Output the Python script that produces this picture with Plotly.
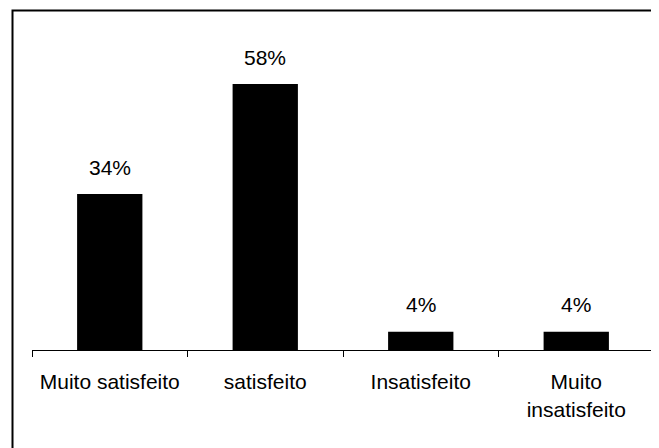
import plotly.graph_objects as go

categories = ["Muito satisfeito", "satisfeito", "Insatisfeito", "Muito<br>insatisfeito"]
values = [34, 58, 4, 4]
value_labels = ["34%", "58%", "4%", "4%"]

FONT = "Liberation Sans, Arial, sans-serif"

fig = go.Figure()
fig.add_trace(go.Bar(
    x=categories, y=values,
    marker=dict(color="black", line=dict(width=0)),
    hoverinfo="skip",
))

for c, v, t in zip(categories, values, value_labels):
    fig.add_annotation(x=c, y=v, text=t, showarrow=False, yanchor="middle",
                       yshift=27, font=dict(size=21, color="black", family=FONT))

# page has an 8px body margin; compensate so the plot lands where the reference has it
OFF = 8
W, H = 659 - OFF, 448 - OFF
l, r, t, b = 32 - OFF, 5, 29 - OFF, 98
pw, ph = W - l - r, H - t - b
fx0 = (12.5 - OFF - l) / pw
fy1 = 1 + (t - (10.5 - OFF)) / ph
fig.add_shape(type="rect", xref="paper", yref="paper",
              x0=fx0, x1=1.2, y0=-0.5, y1=fy1,
              line=dict(color="black", width=2), layer="above")

fig.update_layout(
    width=W, height=H,
    margin=dict(l=l, r=r, t=t, b=b),
    paper_bgcolor="white", plot_bgcolor="white",
    bargap=0.58,
    showlegend=False,
    font=dict(family=FONT, size=21, color="black"),
    xaxis=dict(
        showline=True, linecolor="black", linewidth=1,
        ticks="outside", tickson="boundaries", ticklen=6, tickcolor="black", tickwidth=1,
        tickfont=dict(size=21, color="black", family=FONT),
        showgrid=False, zeroline=False, fixedrange=True,
        ticklabelstandoff=13,
    ),
    yaxis=dict(range=[0, 70], visible=False, showgrid=False, zeroline=False, fixedrange=True),
)

fig.write_html("out.html")
